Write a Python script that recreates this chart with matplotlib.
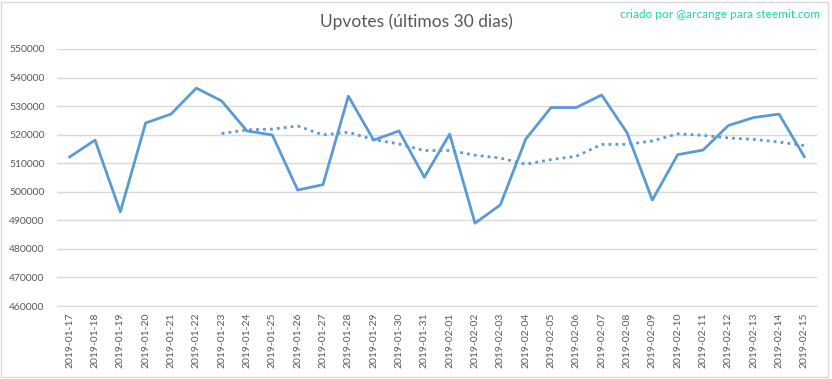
import pandas as pd
import matplotlib.pyplot as plt
from matplotlib.patches import Rectangle

dates = ['2019-01-17', '2019-01-18', '2019-01-19', '2019-01-20', '2019-01-21',
	'2019-01-22', '2019-01-23', '2019-01-24', '2019-01-25', '2019-01-26',
	'2019-01-27', '2019-01-28', '2019-01-29', '2019-01-30', '2019-01-31',
	'2019-02-01', '2019-02-02', '2019-02-03', '2019-02-04', '2019-02-05',
	'2019-02-06', '2019-02-07', '2019-02-08', '2019-02-09', '2019-02-10',
	'2019-02-11', '2019-02-12', '2019-02-13', '2019-02-14', '2019-02-15']
upvotes = [512200, 518100, 493000, 524100, 527200,
	536300, 531800, 521300, 519900, 500600,
	502500, 533500, 518100, 521300, 505100,
	520200, 489000, 495400, 518400, 529500,
	529500, 533900, 520700, 497100, 513000,
	514600, 523200, 526000, 527200, 512300]
y_ticks = [460000, 470000, 480000, 490000, 500000, 510000, 520000, 530000, 540000, 550000]

title = 'Upvotes (últimos 30 dias)'
credit = 'criado por @arcange para steemit.com'

blue = '#5B9BD5'
grey_text = '#595959'
grid_col = '#D9D9D9'

plt.rcParams['font.family'] = ['Lato', 'DejaVu Sans']

data = pd.Series(upvotes, index=dates)
# 7-day moving average trendline
moving_avg = data.rolling(7).mean()

fig = plt.figure(figsize=(8.32, 3.79), dpi=100)
ax = fig.add_axes([57/832, 1 - 306/379, 760/832, 257/379])

x = range(len(dates))
ax.plot(x, data.values, color=blue, linewidth=2, solid_joinstyle='round')
ax.plot(x, moving_avg.values, color=blue, linewidth=2, linestyle=(0, (1, 1.5)))

ax.set_xlim(-0.5, len(dates) - 0.5)
ax.set_ylim(y_ticks[0], y_ticks[-1])
ax.set_yticks(y_ticks)
ax.set_yticklabels([str(v) for v in y_ticks])
ax.set_xticks(list(x))
ax.set_xticklabels(dates, rotation=90)
ax.tick_params(axis='both', length=0, labelsize=7.5, colors=grey_text)
ax.tick_params(axis='y', pad=9)
ax.tick_params(axis='x', pad=5)

ax.grid(axis='y', color=grid_col, linewidth=1)
ax.set_axisbelow(True)
for side in ['top', 'right', 'left']:
	ax.spines[side].set_visible(False)
ax.spines['bottom'].set_color(grid_col)

fig.text(416/832, 1 - 22/379, title, ha='center', va='center', fontsize=12.5, color=grey_text)
fig.text(820/832, 1 - 15/379, credit, ha='right', va='center', fontsize=8.6, color='#1BD7A6')

fig.patches.append(Rectangle((1/832, 2/379), 827/832, 375/379, transform=fig.transFigure,
	fill=False, edgecolor='#D9D9D9', linewidth=1))

fig.savefig('out.png', dpi=100)
